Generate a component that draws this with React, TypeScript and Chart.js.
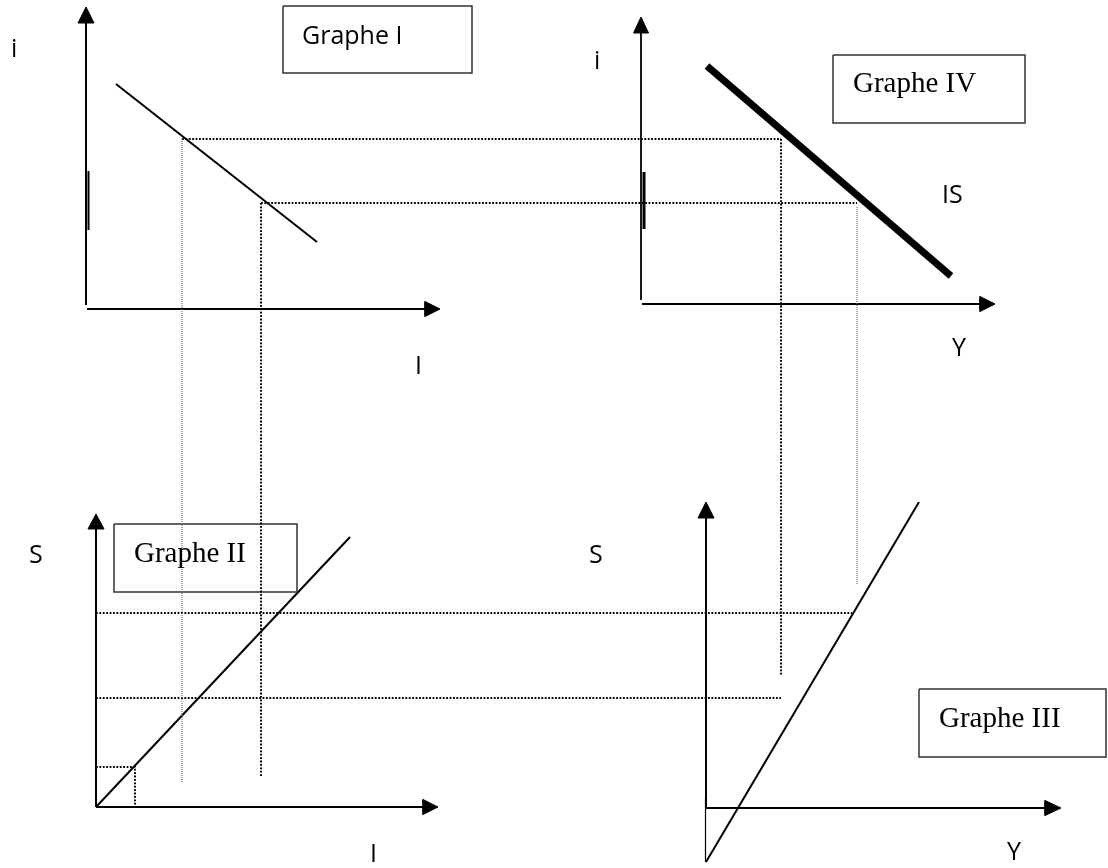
import React, { useEffect, useRef } from 'react';
import { Chart, registerables } from 'chart.js';

Chart.register(...registerables);

type P = { x: number; y: number };

// Diagram coordinates (units of the drawing plane, 0..1108 x 0..868, y downward)

// Graph I : i against I (investment)
const g1AxisY: P[] = [{ x: 86, y: 305 }, { x: 86, y: 22 }];
const g1ArrowY: P[] = [{ x: 86, y: 7 }, { x: 78, y: 23 }, { x: 94, y: 23 }, { x: 86, y: 7 }];
const g1AxisX: P[] = [{ x: 87, y: 309 }, { x: 426, y: 309 }];
const g1ArrowX: P[] = [{ x: 440, y: 309 }, { x: 425, y: 301.5 }, { x: 425, y: 316.5 }, { x: 440, y: 309 }];
const g1Tick: P[] = [{ x: 88.5, y: 171 }, { x: 88.5, y: 230 }];
const g1Curve: P[] = [{ x: 116, y: 84 }, { x: 317, y: 242 }];
const g1Box: P[] = [{ x: 283, y: 6 }, { x: 472, y: 6 }, { x: 472, y: 73 }, { x: 283, y: 73 }, { x: 283, y: 6 }];

// Graph II : S against I
const g2AxisY: P[] = [{ x: 96, y: 807 }, { x: 96, y: 528 }];
const g2ArrowY: P[] = [{ x: 96, y: 514 }, { x: 88, y: 529 }, { x: 104, y: 529 }, { x: 96, y: 514 }];
const g2AxisX: P[] = [{ x: 96, y: 807 }, { x: 424, y: 807 }];
const g2ArrowX: P[] = [{ x: 438, y: 807 }, { x: 423, y: 799.5 }, { x: 423, y: 814.5 }, { x: 438, y: 807 }];
const g2Curve: P[] = [{ x: 96, y: 807 }, { x: 350, y: 537 }];
const g2Box: P[] = [{ x: 114, y: 524 }, { x: 297, y: 524 }, { x: 297, y: 592 }, { x: 114, y: 592 }, { x: 114, y: 524 }];

// Graph III : S against Y
const g3AxisY: P[] = [{ x: 706, y: 808 }, { x: 706, y: 517 }];
const g3AxisYLow: P[] = [{ x: 705.5, y: 798 }, { x: 705.5, y: 862 }];
const g3ArrowY: P[] = [{ x: 706, y: 502 }, { x: 698, y: 518 }, { x: 714, y: 518 }, { x: 706, y: 502 }];
const g3AxisX: P[] = [{ x: 706, y: 808 }, { x: 1046, y: 808 }];
const g3ArrowX: P[] = [{ x: 1061, y: 808 }, { x: 1045, y: 800.5 }, { x: 1045, y: 815.5 }, { x: 1061, y: 808 }];
const g3Curve: P[] = [{ x: 706, y: 862 }, { x: 919, y: 502 }];
const g3Box: P[] = [{ x: 919, y: 689 }, { x: 1106, y: 689 }, { x: 1106, y: 757 }, { x: 919, y: 757 }, { x: 919, y: 689 }];

// Graph IV : i against Y (IS curve)
const g4AxisY: P[] = [{ x: 641, y: 300 }, { x: 641, y: 32 }];
const g4ArrowY: P[] = [{ x: 641, y: 17 }, { x: 633.5, y: 33 }, { x: 648.5, y: 33 }, { x: 641, y: 17 }];
const g4AxisX: P[] = [{ x: 642, y: 304 }, { x: 981, y: 304 }];
const g4ArrowX: P[] = [{ x: 995, y: 304 }, { x: 980, y: 296.5 }, { x: 980, y: 311.5 }, { x: 995, y: 304 }];
const g4Tick: P[] = [{ x: 644, y: 172 }, { x: 644, y: 229 }];
const g4Curve: P[] = [{ x: 707, y: 66 }, { x: 951, y: 276 }];
const g4Box: P[] = [{ x: 833, y: 55 }, { x: 1025, y: 55 }, { x: 1025, y: 123 }, { x: 833, y: 123 }, { x: 833, y: 55 }];

// Projection (dotted) lines
const dotHigh: P[] = [{ x: 182, y: 139 }, { x: 781, y: 139 }];
const dotLow: P[] = [{ x: 261, y: 203 }, { x: 857, y: 203 }];
const dotY1: P[] = [{ x: 781, y: 139 }, { x: 781, y: 676 }];
const dotI2: P[] = [{ x: 261, y: 203 }, { x: 261, y: 777 }];
const dotS2: P[] = [{ x: 96, y: 613 }, { x: 852, y: 613 }];
const dotS1: P[] = [{ x: 96, y: 698 }, { x: 781, y: 698 }];
const dotSmall: P[] = [{ x: 96, y: 767 }, { x: 135, y: 767 }, { x: 135, y: 807 }];
const greyI1: P[] = [{ x: 182, y: 139 }, { x: 182, y: 782 }];
const greyY2: P[] = [{ x: 857, y: 207 }, { x: 857, y: 585 }];

// Text labels
const sansLabels = ['i', 'I', 'i', 'IS', 'Y', 'S', 'I', 'S', 'Y'];
const sansAnchors: P[] = [
  { x: 11, y: 57 }, { x: 415, y: 374 }, { x: 594, y: 69 }, { x: 942, y: 203 }, { x: 952, y: 356 },
  { x: 29, y: 563 }, { x: 370, y: 862 }, { x: 589, y: 563 }, { x: 1007, y: 860 },
];
const boxLabels = ['Graphe I', 'Graphe II', 'Graphe III', 'Graphe IV'];
const boxAnchors: P[] = [{ x: 302, y: 44 }, { x: 134, y: 562 }, { x: 939, y: 727 }, { x: 853, y: 92 }];
const boxSerif = [false, true, true, true];

const solid = (data: P[], width = 2) => ({
  data, borderColor: '#000', borderWidth: width, pointRadius: 0, fill: false, borderCapStyle: 'butt' as const,
});
const arrow = (data: P[]) => ({
  data, borderColor: '#000', backgroundColor: '#000', borderWidth: 1, pointRadius: 0, fill: 'shape' as const,
});
const dotted = (data: P[]) => ({
  data, borderColor: '#000', borderWidth: 2, borderDash: [1.8, 1.6], pointRadius: 0, fill: false,
});
const grey = (data: P[]) => ({
  data, borderColor: '#777', borderWidth: 1.2, borderDash: [1, 1], pointRadius: 0, fill: false,
});
const box = (data: P[]) => ({
  data, borderColor: '#333', borderWidth: 1.5, pointRadius: 0, fill: false,
});

const textPlugin = {
  id: 'diagramText',
  afterDatasetsDraw(chart: any) {
    const { ctx, scales } = chart;
    const sx = scales.x;
    const sy = scales.y;
    ctx.save();
    ctx.fillStyle = '#000';
    ctx.textAlign = 'left';
    ctx.textBaseline = 'alphabetic';
    ctx.font = '25px "Open Sans"';
    sansLabels.forEach((t, i) => {
      ctx.fillText(t, sx.getPixelForValue(sansAnchors[i].x), sy.getPixelForValue(sansAnchors[i].y));
    });
    boxLabels.forEach((t, i) => {
      ctx.font = boxSerif[i] ? '29px "Liberation Serif"' : '25px "Open Sans"';
      ctx.fillText(t, sx.getPixelForValue(boxAnchors[i].x), sy.getPixelForValue(boxAnchors[i].y));
    });
    ctx.restore();
  },
};

export default function App() {
  const ref = useRef<HTMLCanvasElement | null>(null);
  useEffect(() => {
    if (!ref.current) return;
    const chart = new Chart(ref.current, {
      type: 'line',
      data: {
        datasets: [
          grey(greyI1), grey(greyY2),
          dotted(dotHigh), dotted(dotLow), dotted(dotY1), dotted(dotI2),
          dotted(dotS2), dotted(dotS1), dotted(dotSmall),
          box(g1Box), box(g2Box), box(g3Box), box(g4Box),
          solid(g1AxisY), arrow(g1ArrowY), solid(g1AxisX), arrow(g1ArrowX), solid(g1Tick, 2), solid(g1Curve, 2),
          solid(g2AxisY), arrow(g2ArrowY), solid(g2AxisX), arrow(g2ArrowX), solid(g2Curve, 2),
          solid(g3AxisY), solid(g3AxisYLow, 1.2), arrow(g3ArrowY), solid(g3AxisX), arrow(g3ArrowX), solid(g3Curve, 2),
          solid(g4AxisY, 1.8), arrow(g4ArrowY), solid(g4AxisX), arrow(g4ArrowX), solid(g4Tick, 3), solid(g4Curve, 7),
        ] as any,
      },
      options: {
        animation: false,
        responsive: false,
        maintainAspectRatio: false,
        layout: { padding: 0 },
        parsing: { xAxisKey: 'x', yAxisKey: 'y' } as any,
        elements: { line: { tension: 0 } },
        plugins: { legend: { display: false }, tooltip: { enabled: false } },
        events: [],
        scales: {
          x: { type: 'linear', min: 0, max: 1108, display: false },
          y: { type: 'linear', min: 0, max: 868, reverse: true, display: false },
        },
      },
      plugins: [textPlugin],
    });
    return () => chart.destroy();
  }, []);
  return (
    <div style={{ position: 'fixed', left: 0, top: 0, width: 1108, height: 868, background: '#fff' }}>
      <canvas ref={ref} width={1108} height={868} style={{ display: 'block' }} />
    </div>
  );
}
